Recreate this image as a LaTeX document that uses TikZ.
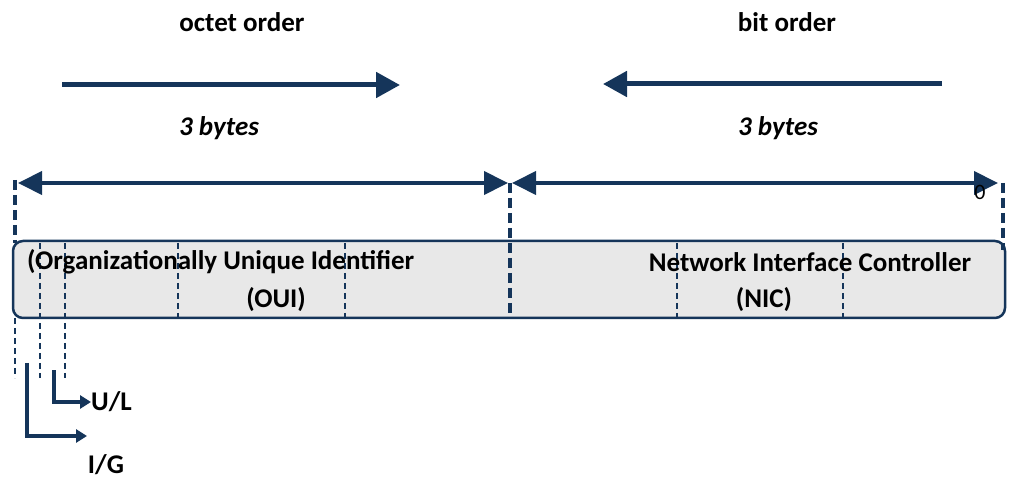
\documentclass[tikz,border=0pt]{standalone}
\usepackage{fontspec}
\setmainfont{Carlito}
\usetikzlibrary{arrows.meta}
\definecolor{navy}{HTML}{15355A}
\definecolor{boxgray}{HTML}{E8E8E8}
\tikzset{
  lbl/.style={font=\fontsize{27}{31}\selectfont\bfseries, inner sep=0pt, text=black},
  ilbl/.style={font=\fontsize{27}{31}\selectfont\bfseries\itshape, inner sep=0pt, text=black},
  bigarrow/.style={draw=navy, line width=5pt, -{Triangle[length=24pt,width=25pt]}},
  dimarrow/.style={draw=navy, line width=4pt, {Triangle[length=24pt,width=23pt]}-{Triangle[length=24pt,width=23pt]}},
  smallarrow/.style={draw=navy, line width=4pt, -{Triangle[length=11pt,width=13pt]}},
  thickdash/.style={draw=navy, line width=4pt, dash pattern=on 10pt off 5pt},
  thindash/.style={draw=navy, line width=2.5pt, dash pattern=on 6pt off 4pt},
  fieldbox/.style={draw=navy, line width=2.5pt, fill=boxgray, rounded corners=10pt, minimum width=992pt, minimum height=77pt, inner sep=0pt}
}
\begin{document}
\begin{tikzpicture}[x=1pt,y=-1pt]
\useasboundingbox (0,0) rectangle (1023,486);
% titles
\node[lbl] (octet) at (242,22) {octet order};
\node[lbl] (bit) at (787,22) {bit order};
% order arrows
\coordinate (oa1) at (62,85);
\coordinate (oa2) at (400,85);
\coordinate (ba1) at (942,84);
\coordinate (ba2) at (603,84);
\draw[bigarrow] (oa1) -- (oa2);
\draw[bigarrow] (ba1) -- (ba2);
% 3 bytes
\node[ilbl] (b1) at (219,128) {3 bytes};
\node[ilbl] (b2) at (778,128) {3 bytes};
% box
\node[fieldbox] (box) at (509,279.5) {};
% thick dashed markers
\draw[thickdash] (15,180) -- (15,243);
\draw[thickdash] (510,183) -- (510,318);
\draw[thickdash] (1003,183) -- (1003,250);
% dimension arrows
\coordinate (d1) at (18,183);
\coordinate (d2) at (508,183);
\coordinate (d3) at (512,183);
\coordinate (d4) at (998,183);
\draw[dimarrow] (d1) -- (d2);
\draw[dimarrow] (d3) -- (d4);
\node[font=\fontsize{22}{26}\selectfont, inner sep=0pt] (zero) at (980,192) {0};
% thin dashed separators
\draw[thindash] (40,243) -- (40,378);
\draw[thindash] (65,243) -- (65,378);
\draw[thindash] (15,318) -- (15,378);
\draw[thindash] (178,243) -- (178,318);
\draw[thindash] (345,243) -- (345,318);
\draw[thindash] (677,243) -- (677,318);
\draw[thindash] (843,243) -- (843,318);
% box texts
\node[lbl, anchor=west] (oui1) at (27,262) {(Organizationally Unique Identifier};
\node[lbl] (oui2) at (276,300) {(OUI)};
\node[lbl] (nic1) at (810,262) {Network Interface Controller};
\node[lbl] (nic2) at (764,300) {(NIC)};
% bit labels
\node[lbl, anchor=west] (ul) at (91,402) {U/L};
\node[lbl] (ig) at (106,465) {I/G};
\coordinate (ulstart) at (54,370);
\coordinate (igstart) at (27,363);
\coordinate (igend) at (87,436);
\draw[smallarrow] (ulstart) |- (ul.west);
\draw[smallarrow] (igstart) |- (igend);
\end{tikzpicture}
\end{document}
